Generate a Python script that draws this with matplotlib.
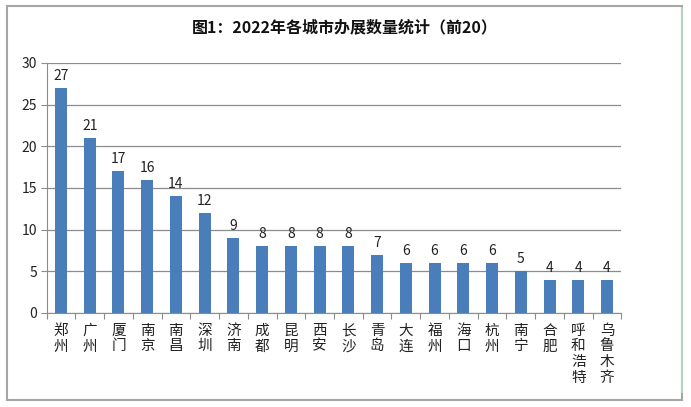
import matplotlib
matplotlib.use("Agg")
import matplotlib.pyplot as plt
from matplotlib.patches import Rectangle
from matplotlib.lines import Line2D

plt.rcParams['font.family'] = ['Noto Sans CJK SC', 'DejaVu Sans']

cities = ["郑州", "广州", "厦门", "南京", "南昌", "深圳", "济南", "成都", "昆明", "西安",
          "长沙", "青岛", "大连", "福州", "海口", "杭州", "南宁", "合肥", "呼和浩特", "乌鲁木齐"]
counts = [27, 21, 17, 16, 14, 12, 9, 8, 8, 8, 8, 7, 6, 6, 6, 6, 5, 4, 4, 4]
title = "图1：2022年各城市办展数量统计（前20）"
yticks = [0, 5, 10, 15, 20, 25, 30]

W, H = 691, 407
fig = plt.figure(figsize=(W / 100, H / 100), dpi=100)
fig.patch.set_facecolor("white")

# outer frame
fig.add_artist(Rectangle((7 / W, 1 - 400 / H), (682 - 7) / W, (400 - 6) / H,
                         transform=fig.transFigure, fill=False,
                         edgecolor="#a6a6a6", linewidth=1.5))
fig.add_artist(Line2D([682 / W, 682 / W], [1 - 392 / H, 1 - 8 / H],
                      transform=fig.transFigure, color="#b5d3bd", linewidth=1.5))

ax = fig.add_axes([46.6 / W, 1 - 313 / H, (621.4 - 46.6) / W, (313 - 63) / H])
x = list(range(len(cities)))
bars = ax.bar(x, counts, width=0.42, color="#4a7ebb", zorder=3)
for xi, v in zip(x, counts):
    ax.text(xi, v + 0.6, str(v), ha="center", va="bottom", fontsize=10, color="#222222")

ax.set_xlim(-0.5, len(cities) - 0.5)
ax.set_ylim(0, 30)
ax.set_yticks(yticks)
ax.set_yticklabels([str(t) for t in yticks], fontsize=10, color="#222222")
ax.yaxis.grid(True, color="#8c8c8c", linewidth=0.9, zorder=0)
ax.set_axisbelow(True)

ax.set_xticks([i + 0.5 for i in range(-1, len(cities))])
ax.set_xticklabels([])
ax.tick_params(axis="x", direction="out", length=4, color="#8c8c8c")
ax.tick_params(axis="y", direction="out", length=4, color="#8c8c8c", pad=3)
for i, c in enumerate(cities):
    ax.text(i, -1.3, "\n".join(c), ha="center", va="top", fontsize=10.5,
            color="#222222", linespacing=1.15, transform=ax.transData)

for s in ["top", "right"]:
    ax.spines[s].set_visible(False)
ax.spines["left"].set_color("#8c8c8c")
ax.spines["bottom"].set_color("#8c8c8c")

fig.text(345 / W, 1 - 27 / H, title, ha="center", va="center", fontsize=11.5,
         fontweight="bold", color="#111111")

fig.savefig("out.png", dpi=100)
